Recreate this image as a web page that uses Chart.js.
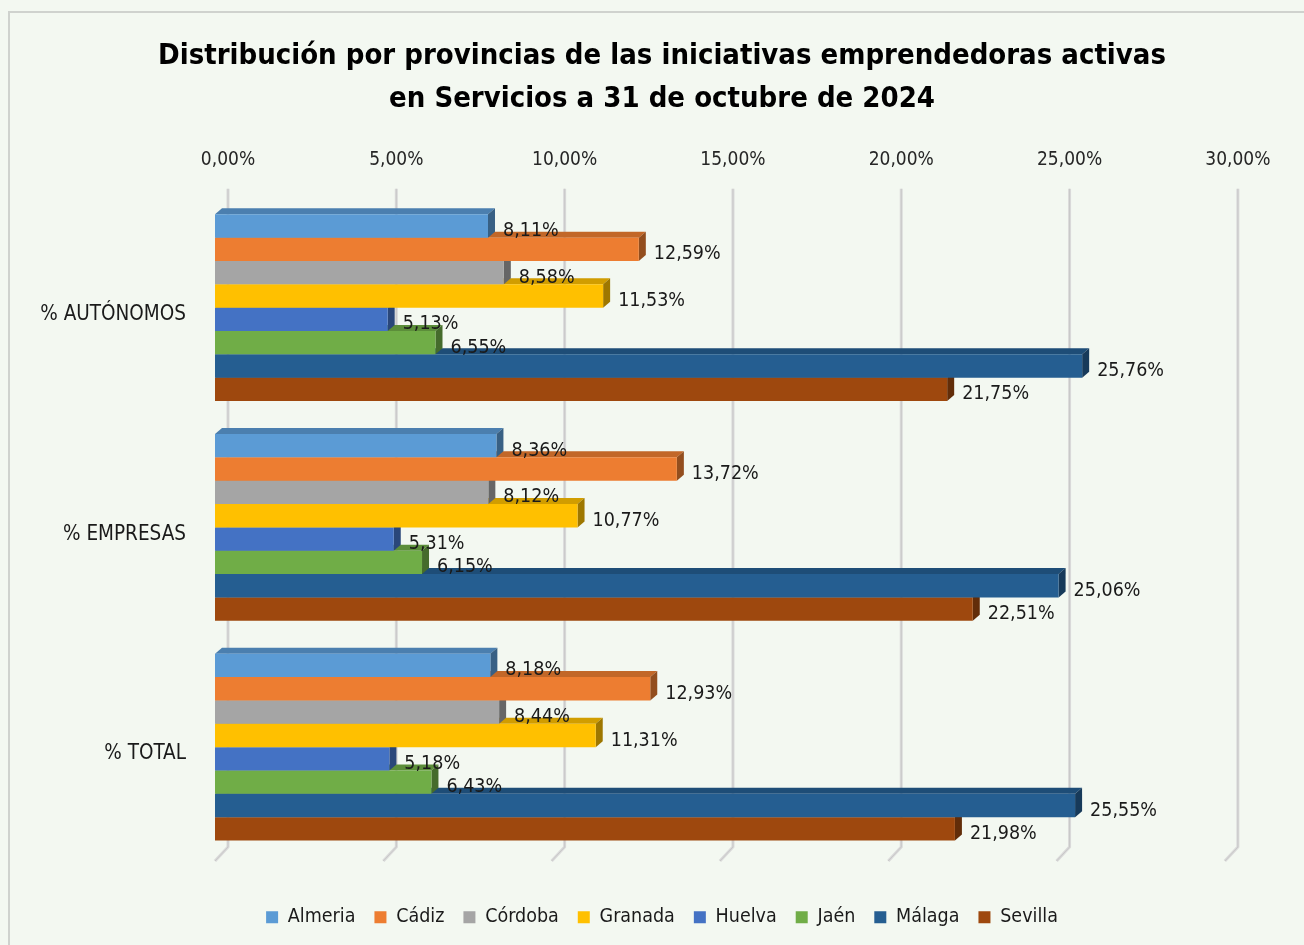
<!DOCTYPE html>
<html>
<head>
<meta charset="utf-8">
<script src="https://cdn.jsdelivr.net/npm/chart.js@4.4.1/dist/chart.umd.min.js"></script>
<style>
  html, body { margin: 0; padding: 0; background: #f3f8f1; }
</style>
</head>
<body>
<canvas id="grafico" width="1304" height="945"></canvas>
<script>
// datos
var categorias = ['% AUTÓNOMOS', '% EMPRESAS', '% TOTAL'];
var provincias = ['Almeria', 'Cádiz', 'Córdoba', 'Granada', 'Huelva', 'Jaén', 'Málaga', 'Sevilla'];
var almeria = [8.11, 8.36, 8.18];
var cadiz   = [12.59, 13.72, 12.93];
var cordoba = [8.58, 8.12, 8.44];
var granada = [11.53, 10.77, 11.31];
var huelva  = [5.13, 5.31, 5.18];
var jaen    = [6.55, 6.15, 6.43];
var malaga  = [25.76, 25.06, 25.55];
var sevilla = [21.75, 22.51, 21.98];
var ticksX  = [0, 5, 10, 15, 20, 25, 30];

var colores = ['#5B9BD5', '#ED7D31', '#A5A5A5', '#FFC000', '#4472C4', '#70AD47', '#255E91', '#9E480E'];
var series = [almeria, cadiz, cordoba, granada, huelva, jaen, malaga, sevilla];

var FUENTE = '"Liberation Sans Narrow", "Arial Narrow", "DejaVu Sans Condensed", sans-serif';

function oscurecer(hex, f) {
    var n = parseInt(hex.slice(1), 16);
    var r = Math.round(((n >> 16) & 255) * f);
    var g = Math.round(((n >> 8) & 255) * f);
    var b = Math.round((n & 255) * f);
    return 'rgb(' + r + ',' + g + ',' + b + ')';
}

function pct(v) {
    return v.toFixed(2).replace('.', ',') + '%';
}

// fondo y marco
var fondo = {
    id: 'fondo',
    beforeDraw: function(chart) {
        var ctx = chart.ctx;
        ctx.save();
        ctx.fillStyle = '#f3f8f1';
        ctx.fillRect(0, 0, chart.width, chart.height);
        ctx.strokeStyle = '#cfd2ce';
        ctx.lineWidth = 2;
        ctx.strokeRect(9, 12, chart.width + 20, chart.height + 20);
        ctx.restore();
    }
};

// rejilla al fondo (efecto 3D)
var rejilla = {
    id: 'rejilla',
    beforeDatasetsDraw: function(chart) {
        var ctx = chart.ctx, x = chart.scales.x, area = chart.chartArea;
        ctx.save();
        ticksX.forEach(function(t) {
            var px = x.getPixelForValue(t);
            ctx.beginPath();
            ctx.moveTo(px + 13, area.top - 9);
            ctx.lineTo(px + 13, area.bottom - 10);
            ctx.lineTo(px, area.bottom + 4);
            ctx.strokeStyle = '#dadada';
            ctx.lineWidth = 3;
            ctx.stroke();
            ctx.strokeStyle = '#c8c8c8';
            ctx.lineWidth = 1;
            ctx.stroke();
        });
        ctx.restore();
    }
};

// caras superior y lateral de las barras
var barras3d = {
    id: 'barras3d',
    beforeDatasetsDraw: function(chart) {
        var ctx = chart.ctx, dx = 7, dy = 6;
        ctx.save();
        for (var d = chart.data.datasets.length - 1; d >= 0; d--) {
            var col = chart.data.datasets[d].backgroundColor;
            chart.getDatasetMeta(d).data.forEach(function(bar) {
                var p = bar.getProps(['x', 'y', 'base', 'height'], true);
                var arriba = p.y - p.height / 2, abajo = p.y + p.height / 2;
                ctx.fillStyle = oscurecer(col, 0.82);
                ctx.beginPath();
                ctx.moveTo(p.base, arriba);
                ctx.lineTo(p.base + dx, arriba - dy);
                ctx.lineTo(p.x + dx, arriba - dy);
                ctx.lineTo(p.x, arriba);
                ctx.closePath();
                ctx.fill();
                ctx.fillStyle = oscurecer(col, 0.62);
                ctx.beginPath();
                ctx.moveTo(p.x, arriba);
                ctx.lineTo(p.x + dx, arriba - dy);
                ctx.lineTo(p.x + dx, abajo - dy);
                ctx.lineTo(p.x, abajo);
                ctx.closePath();
                ctx.fill();
            });
        }
        ctx.restore();
    },
    afterDatasetsDraw: function(chart) {
        var ctx = chart.ctx;
        ctx.save();
        ctx.font = '19.5px ' + FUENTE;
        ctx.fillStyle = '#1a1a1a';
        ctx.textAlign = 'left';
        ctx.textBaseline = 'middle';
        chart.data.datasets.forEach(function(ds, d) {
            chart.getDatasetMeta(d).data.forEach(function(bar, i) {
                var p = bar.getProps(['x', 'y'], true);
                ctx.fillText(pct(ds.data[i]), p.x + 15, p.y + 5);
            });
        });
        ctx.restore();
    }
};

var datasets = provincias.map(function(nombre, i) {
    return {
        label: nombre,
        data: series[i],
        backgroundColor: colores[i],
        borderWidth: 0,
        categoryPercentage: 0.85,
        barPercentage: 1.0
    };
});

new Chart(document.getElementById('grafico'), {
    type: 'bar',
    data: { labels: categorias, datasets: datasets },
    plugins: [fondo, rejilla, barras3d],
    options: {
        indexAxis: 'y',
        responsive: false,
        animation: false,
        layout: { padding: { left: 20, right: 0, top: 0, bottom: 8 } },
        scales: {
            x: {
                position: 'top',
                min: 0,
                max: 32.35,
                grid: { display: false, drawTicks: false },
                border: { display: false },
                ticks: {
                    stepSize: 5,
                    includeBounds: false,
                    labelOffset: 13,
                    padding: 26,
                    color: '#262626',
                    font: { family: FUENTE, size: 19 },
                    callback: function(v) { return (v % 5 === 0 && v <= 30) ? pct(v) : ''; }
                },
                afterFit: function(s) { s.height = 50.8; }
            },
            x2: {
                type: 'linear',
                position: 'bottom',
                display: true,
                grid: { display: false },
                border: { display: false },
                ticks: { display: false },
                afterFit: function(s) { s.height = 31.5; }
            },
            y: {
                grid: { display: false, drawTicks: false },
                border: { display: false },
                ticks: {
                    padding: 29,
                    labelOffset: 7,
                    color: '#1a1a1a',
                    font: { family: FUENTE, size: 20.5 }
                },
                afterFit: function(s) { s.width = 195; }
            }
        },
        plugins: {
            title: {
                display: true,
                text: ['Distribución por provincias de las iniciativas emprendedoras activas', 'en Servicios a 31 de octubre de 2024'],
                color: '#000000',
                font: { family: FUENTE, size: 29, weight: 'bold', lineHeight: 43 / 29 },
                padding: { top: 35, bottom: 26 }
            },
            legend: {
                position: 'bottom',
                labels: {
                    boxWidth: 12,
                    boxHeight: 12,
                    padding: 19,
                    color: '#1a1a1a',
                    font: { family: FUENTE, size: 19.5 }
                }
            },
            tooltip: { enabled: false }
        }
    }
});
</script>
</body>
</html>
